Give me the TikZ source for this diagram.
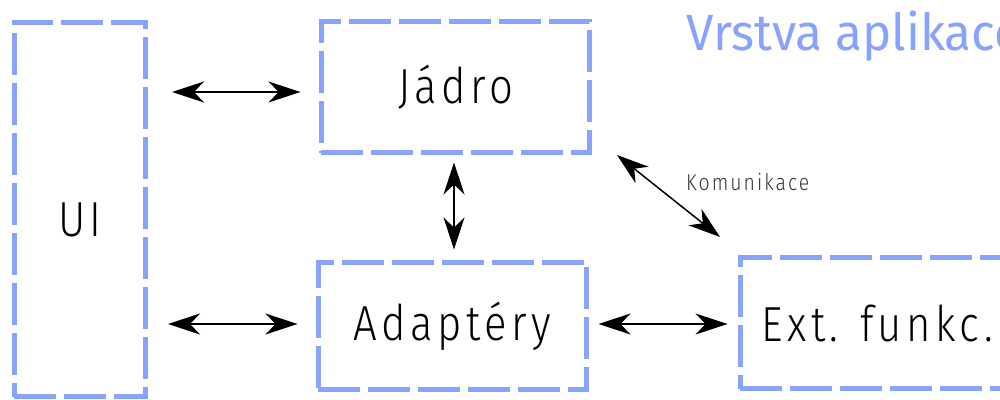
\documentclass[tikz,border=0pt]{standalone}
\usepackage{fontspec}
\setmainfont{Fira Sans}[UprightFont={* Light}, LetterSpace=9, FakeStretch=0.85]
\newfontfamily\titlefont{Fira Sans}[FakeStretch=0.97]
\usetikzlibrary{arrows.meta,positioning}
\definecolor{layerblue}{HTML}{88A2FF}
\definecolor{notegray}{HTML}{333333}
\tikzset{
    block/.style={draw=layerblue, line width=0.1cm, dash pattern=on 0.84cm off 0.16cm,
        font=\fontsize{28}{30}\selectfont, inner sep=0pt},
    link/.style={{Stealth[length=0.64cm,width=0.42cm,inset=0.2cm]}-{Stealth[length=0.64cm,width=0.42cm,inset=0.2cm]},
        line width=0.03cm}
}
\begin{document}
\begin{tikzpicture}[x=0.02cm, y=-0.02cm]
    \useasboundingbox (0,0) rectangle (1000,399);
    % Layer title
    \node [anchor=base west, text=layerblue, font=\titlefont\fontsize{29}{30}\selectfont] (title) at (680,50) {Vrstva aplikace};
    % Blocks
    \node [block, minimum width=2.64cm, minimum height=7.5cm,
        label={[yshift=-0.2cm, font=\fontsize{28}{30}\selectfont]center:UI}] (ui) at (80,209.5) {};
    \node [block, minimum width=5.38cm, minimum height=2.64cm] (jadro) at (455.5,87) {Jádro};
    \node [block, minimum width=5.38cm, minimum height=2.56cm] (adaptery) at (452.5,326) {Adaptéry};
    \node [block, minimum width=6cm, minimum height=2.64cm,
        label={[anchor=west, xshift=0.36cm, font=\fontsize{28}{30}\selectfont]west:Ext. funkc.}] (ext) at (890,323) {};
    % Connectors
    \coordinate (uitop) at (146,92);
    \coordinate (uibot) at (146,324);
    \draw [link, shorten <=0.52cm, shorten >=0.36cm] (uitop) -- (jadro.west |- uitop);
    \draw [link, shorten <=0.44cm, shorten >=0.36cm] (uibot) -- (adaptery.west |- uibot);
    \coordinate (mid) at (454,0);
    \draw [link, shorten <=0.14cm, shorten >=0.2cm] (mid |- jadro.south) -- (mid |- adaptery.north);
    \draw [link, shorten <=0.18cm, shorten >=0.2cm] (adaptery.east |- uibot) -- (ext.west |- uibot);
    \coordinate (kstart) at (617,155);
    \coordinate (kend) at (720,237);
    \draw [link] (kstart) -- (kend);
    \node [anchor=base west, text=notegray, font=\fontsize{13}{14}\selectfont] (komunikace) at (680,190) {Komunikace};
\end{tikzpicture}
\end{document}
